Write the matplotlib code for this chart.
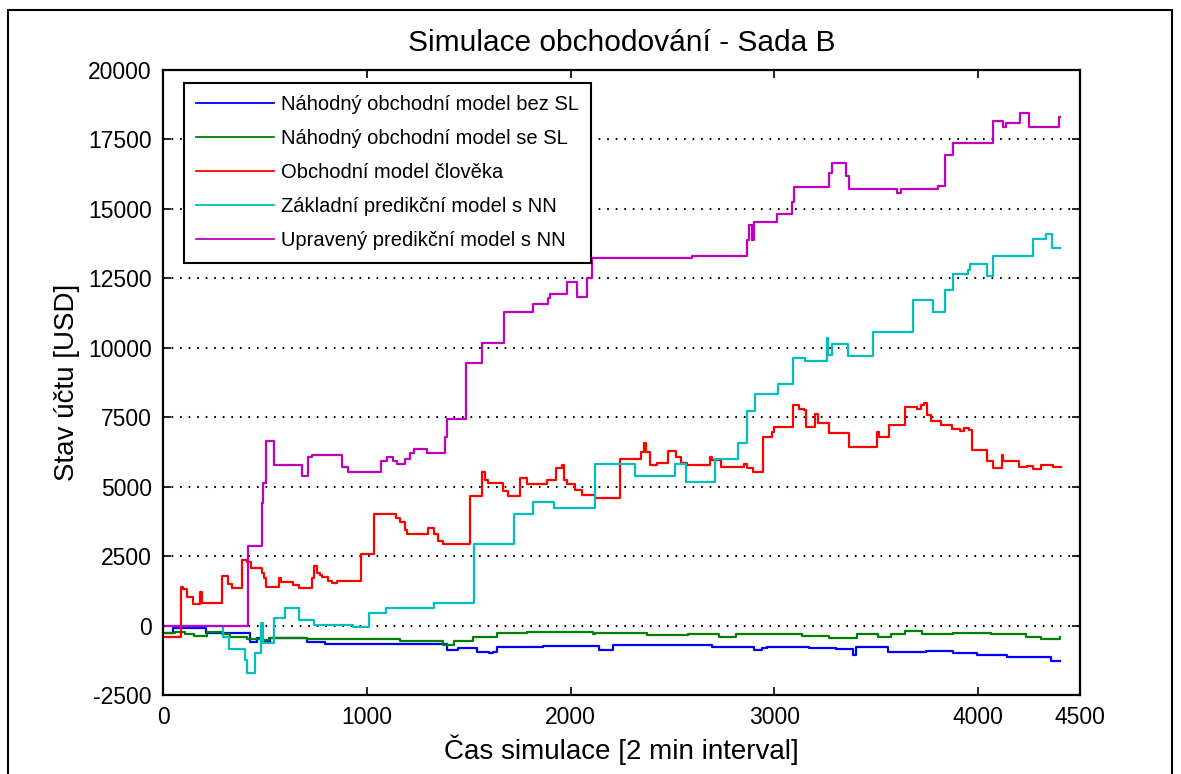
#!/usr/bin/env python3
""" Simulace obchodovani - Sada B: account balance of five trading models """

import matplotlib
matplotlib.use('Agg')
import matplotlib.pyplot as plt
from matplotlib.patches import Rectangle

labels = ["Náhodný obchodní model bez SL",
          "Náhodný obchodní model se SL",
          "Obchodní model člověka",
          "Základní predikční model s NN",
          "Upravený predikční model s NN"]
colors = ["#0000ff", "#008000", "#ff0000", "#00bfbf", "#bf00bf"]

# each series is a list of steps: value holds from that time until the next
blue_x = [0, 50, 210, 312, 427, 460, 480, 525, 705, 795, 1392, 1450, 1540,
          1600, 1620, 1637, 1866, 2138, 2206, 2696, 2899, 2940, 2966, 3169,
          3304, 3388, 3400, 3557, 3743, 3878, 3996, 4140, 4360, 4403]
blue_y = [-280, -100, -250, -260, -580, -450, -600, -460, -580, -680, -880,
          -820, -940, -1000, -940, -760, -730, -880, -700, -760, -880, -820,
          -760, -790, -860, -1060, -760, -940, -920, -1000, -1060, -1120,
          -1280, -1280]

green_x = [0, 60, 110, 150, 215, 290, 330, 411, 492, 520, 705, 1163, 1376,
           1430, 1523, 1640, 1785, 2112, 2122, 2375, 2578, 2730, 2814, 3135,
           3270, 3405, 3507, 3574, 3642, 3726, 3878, 4064, 4233, 4309, 4400]
green_y = [-260, -220, -300, -380, -230, -300, -420, -480, -520, -450, -470,
           -560, -700, -560, -420, -260, -220, -300, -250, -340, -320, -410,
           -320, -380, -460, -320, -410, -290, -190, -320, -250, -320, -410,
           -470, -400]

red_x = [0, 87, 97, 116, 145, 181, 190, 291, 321, 337, 387, 414, 431, 484,
         496, 506, 571, 580, 640, 669, 730, 742, 755, 768, 779, 809, 830, 856,
         972, 1037, 1141, 1163, 1188, 1195, 1302, 1330, 1351, 1372, 1507, 1564,
         1580, 1593, 1670, 1695, 1752, 1784, 1882, 1928, 1956, 1968, 1981,
         2022, 2054, 2118, 2243, 2346, 2358, 2372, 2388, 2425, 2476, 2515,
         2540, 2569, 2682, 2696, 2738, 2850, 2865, 2895, 2942, 2991, 3000,
         3093, 3121, 3148, 3155, 3198, 3216, 3270, 3365, 3503, 3515, 3561,
         3642, 3701, 3718, 3735, 3747, 3768, 3819, 3870, 3910, 3929, 3954,
         3971, 4044, 4072, 4115, 4120, 4199, 4241, 4270, 4309, 4368, 4407]
red_y = [-400, 1400, 1300, 1040, 770, 1220, 830, 1780, 1490, 1340, 2360, 2300,
         2060, 1880, 1700, 1400, 1700, 1580, 1460, 1340, 1700, 2140, 1880,
         1820, 1760, 1620, 1540, 1610, 2570, 4010, 3880, 3740, 3440, 3290,
         3500, 3300, 3060, 2930, 4660, 5540, 5240, 5120, 4860, 4670, 5320,
         5090, 5240, 5660, 5780, 5240, 5090, 4870, 4700, 4600, 5980, 6260,
         6580, 6260, 5770, 5840, 6280, 6080, 5840, 5770, 6080, 5960, 5700,
         5810, 5660, 5530, 6780, 6980, 7140, 7940, 7790, 7760, 7140, 7600,
         7300, 6920, 6420, 6980, 6780, 7220, 7860, 7790, 7940, 8020, 7580,
         7360, 7220, 7060, 7020, 7100, 7040, 6320, 5920, 5680, 6140, 5920,
         5700, 5740, 5620, 5770, 5700, 5700]

cyan_x = [0, 296, 325, 402, 411, 451, 483, 490, 545, 598, 669, 741, 930, 1011,
          1094, 1330, 1526, 1722, 1814, 1920, 2118, 2316, 2513, 2566, 2708,
          2821, 2868, 2904, 3017, 3090, 3150, 3257, 3262, 3284, 3360, 3483,
          3679, 3780, 3837, 3878, 3952, 3960, 4042, 4071, 4268, 4333, 4362,
          4403]
cyan_y = [0, -425, -860, -1240, -1700, -980, 80, -620, 260, 620, 200, 20, -40,
          460, 620, 830, 2930, 4010, 4460, 4250, 5830, 5390, 5830, 5180, 5980,
          6560, 7730, 8320, 8680, 9620, 9520, 10340, 9740, 10120, 9700, 10560,
          11720, 11280, 12080, 12640, 12800, 13030, 12580, 13300, 13900, 14110,
          13600, 13600]

magenta_x = [0, 417, 486, 492, 506, 545, 683, 710, 730, 878, 908, 1068, 1100,
             1130, 1150, 1188, 1210, 1230, 1294, 1384, 1395, 1487, 1564, 1673,
             1814, 1891, 1900, 1984, 2030, 2079, 2105, 2594, 2864, 2875, 2892,
             2900, 3011, 3088, 3096, 3268, 3284, 3351, 3368, 3603, 3621, 3801,
             3837, 3878, 4071, 4120, 4137, 4206, 4251, 4395, 4403]
magenta_y = [0, 2860, 4400, 5150, 6640, 5770, 5390, 6080, 6140, 5710, 5540,
             5920, 6060, 5920, 5830, 6000, 6200, 6350, 6210, 6800, 7430, 9460,
             10180, 11280, 11570, 11780, 11930, 12380, 11840, 12520, 13230,
             13300, 13880, 14420, 13880, 14540, 14810, 15260, 15775, 16280,
             16640, 16180, 15700, 15560, 15700, 15820, 16940, 17380, 18170,
             17960, 18100, 18460, 17960, 18320, 18320]

series_x = [blue_x, green_x, red_x, cyan_x, magenta_x]
series_y = [blue_y, green_y, red_y, cyan_y, magenta_y]

x_ticks = [0, 1000, 2000, 3000, 4000, 4500]
y_ticks = [-2500, 0, 2500, 5000, 7500, 10000, 12500, 15000, 17500, 20000]


def trading_plot():
    """ Draw the trading simulation chart. """

    plt.rcParams['font.family'] = ['Liberation Sans', 'DejaVu Sans']
    plt.rcParams['axes.unicode_minus'] = False

    fig = plt.figure(figsize=(11.81, 7.74), dpi=100)
    ax = fig.add_axes([163 / 1181, 79 / 774, 917 / 1181, 625 / 774])

    for xs, ys, col, lab in zip(series_x, series_y, colors, labels):
        ax.plot(xs, ys, color=col, linewidth=1.6, drawstyle='steps-post',
                label=lab)

    ax.set(xlim=(0, 4500), ylim=(-2500, 20000))
    ax.set_xticks(x_ticks)
    ax.set_yticks(y_ticks)
    ax.tick_params(direction='in', length=6, width=1.2, top=True, right=True,
                   labelsize=16.5, pad=8)
    ax.yaxis.grid(True, color='black', linestyle=(0, (0.8, 3.3)),
                  linewidth=1.5)
    ax.set_axisbelow(True)
    for sp in ax.spines.values():
        sp.set_linewidth(1.6)

    ax.set_title("Simulace obchodování - Sada B", fontsize=21.5, pad=14)
    ax.set_xlabel("Čas simulace [2 min interval]", fontsize=20, labelpad=4)
    ax.set_ylabel("Stav účtu [USD]", fontsize=20, labelpad=6)

    leg = ax.legend(loc='upper left', bbox_to_anchor=(21 / 917, 1 - 13 / 625),
                    borderaxespad=0, fontsize=14.5, fancybox=False,
                    framealpha=1, edgecolor='black', handlelength=3.85,
                    handletextpad=0.35, labelspacing=0.75, borderpad=0.6)
    leg.get_frame().set_linewidth(1.5)
    for line in leg.get_lines():
        line.set_linewidth(1.3)

    # border round the whole figure window
    fig.patches.append(Rectangle((8 / 1181, -0.05), 1164 / 1181,
                                 1.05 - 10 / 774, transform=fig.transFigure,
                                 fill=False, edgecolor='black', linewidth=1.5))

    fig.savefig("out.png", dpi=100)


trading_plot()
